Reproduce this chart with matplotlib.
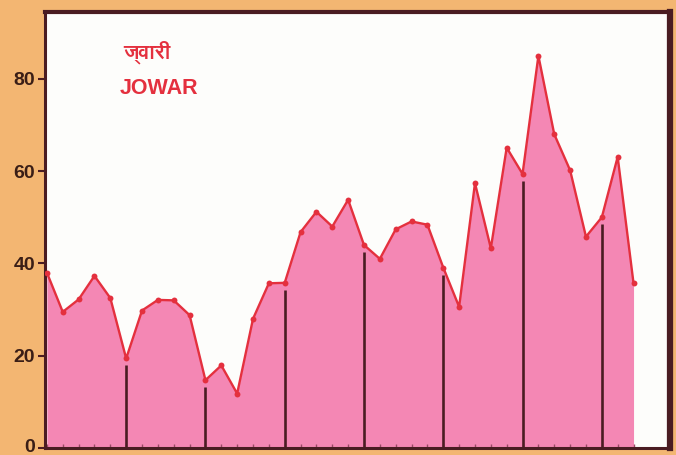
import matplotlib
matplotlib.use("Agg")
import matplotlib.pyplot as plt
from matplotlib import font_manager
from matplotlib.ft2font import FT2Font
import numpy as np

# ---- data ----
values = [38.0, 29.5, 32.2, 37.3, 32.5, 19.4, 29.8, 32.1, 32.0, 28.8,
          14.7, 17.9, 11.8, 28.0, 35.7, 35.8, 46.8, 51.2, 48.0, 53.8,
          44.0, 41.0, 47.4, 49.1, 48.4, 39.1, 30.6, 57.4, 43.3, 65.1,
          59.4, 85.0, 68.0, 60.2, 45.8, 50.0, 63.1, 35.7]
y_ticks = [0, 20, 40, 60, 80]
y_ticklabels = ["0", "20", "40", "60", "80"]
title_hi = "ज्वारी"
title_en = "JOWAR"

x = np.arange(len(values))
v = np.array(values)

# find a font with Devanagari glyphs, preferring a bold face
deva = None
deva_weight = "normal"
cands = []
for f in font_manager.fontManager.ttflist:
    try:
        if 0x091C in FT2Font(f.fname).get_charmap():
            cands.append(f)
    except Exception:
        pass
if cands:
    bold = [f for f in cands if (isinstance(f.weight, int) and f.weight >= 600)
            or str(f.weight).lower() in ("bold", "heavy", "black", "semibold", "demibold")]
    pick = bold[0] if bold else cands[0]
    deva = pick.name
    deva_weight = "bold" if bold else "normal"

ORANGE = "#F3B672"
PINK = "#F487B4"
RED = "#E4303E"
DARK = "#4A1C22"
LABEL = "#3A1E16"

fig = plt.figure(figsize=(6.76, 4.55), dpi=100, facecolor=ORANGE)
ax = fig.add_axes([45/676, 7/455, 625/676, 436/455])
ax.set_facecolor("#FDFDFB")

ax.fill_between(x, 0, v, color=PINK, linewidth=0, zorder=1)
ax.plot(x, v, color=RED, lw=1.7, zorder=3)
ax.scatter(x, v, s=18, color=RED, zorder=4, linewidths=0)
step_idx = x[::5][1:]
ax.vlines(step_idx, 0, v[step_idx] - 1.5, color=DARK, lw=1.9, zorder=2)

ax.set_xlim(-0.12, 39.3)
ax.set_ylim(0, 94.5)

ax.set_yticks(y_ticks)
ax.set_yticklabels(y_ticklabels, fontsize=14, fontweight="bold",
                   color=LABEL, family="Liberation Sans")
ax.tick_params(axis="y", direction="out", length=5, width=1.5, color=DARK, pad=2)
# nudge the bottom "0" label slightly up so it stays inside the figure
from matplotlib.transforms import ScaledTranslation
lbl0 = ax.get_yticklabels()[0]
lbl0.set_transform(lbl0.get_transform() + ScaledTranslation(0, 3/100, fig.dpi_scale_trans))

ax.set_xticks(x, minor=True)
ax.set_xticks([])
ax.tick_params(axis="x", which="minor", direction="in", length=3, width=1,
               color="#9A4A66")

for s in ["left", "bottom"]:
    ax.spines[s].set_color(DARK)
    ax.spines[s].set_linewidth(2.2)
ax.spines["top"].set_color(DARK)
ax.spines["top"].set_linewidth(3.0)
ax.spines["right"].set_color(DARK)
ax.spines["right"].set_linewidth(4.5)

fam = [deva, "DejaVu Sans"] if deva else ["DejaVu Sans"]
ax.text(6.3, 85.8, title_hi, fontsize=15, fontweight=deva_weight, color=RED,
        ha="center", va="center", family=fam)
ax.text(4.6, 78.0, title_en, fontsize=15.5, fontweight="bold", color=RED,
        ha="left", va="center", family="Liberation Sans")

fig.savefig("out.png", dpi=100, facecolor=ORANGE)
